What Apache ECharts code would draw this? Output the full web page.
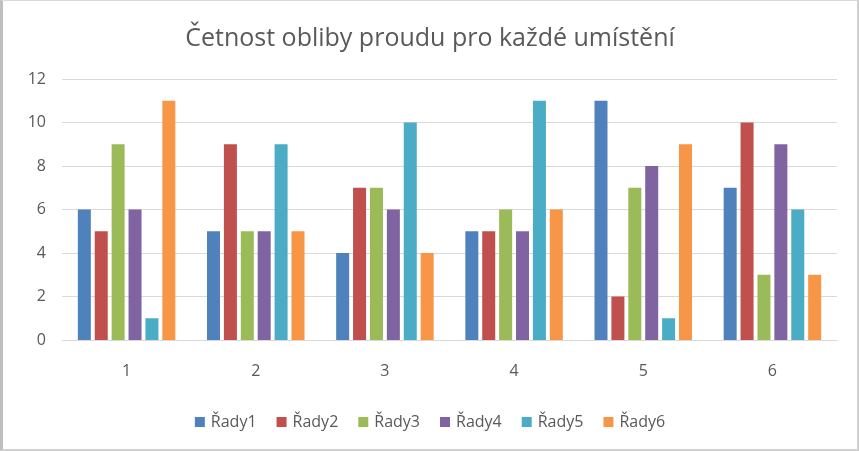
<!DOCTYPE html>
<html><head><meta charset="utf-8">
<script src="https://cdn.jsdelivr.net/npm/echarts@6/dist/echarts.min.js"></script>
<style>
html,body{margin:0;padding:0;background:#fff;}
#c{width:859px;height:451px;box-sizing:border-box;border:1px solid #d9d9d9;border-left:3px solid #bfbfbf;border-bottom:2px solid #d0d0d0;border-right:2px solid #d0d0d0;}
</style></head>
<body><div id="c"></div>
<script>
const categories = ['1','2','3','4','5','6'];
const seriesNames = ['Řady1','Řady2','Řady3','Řady4','Řady5','Řady6'];
const rady1 = [6,5,4,5,11,7];
const rady2 = [5,9,7,5,2,10];
const rady3 = [9,5,7,6,7,3];
const rady4 = [6,5,6,5,8,9];
const rady5 = [1,9,10,11,1,6];
const rady6 = [11,5,4,6,9,3];
const colors = ['#4F81BD','#C0504D','#9BBB59','#8064A2','#4BACC6','#F79646'];
const allData = [rady1,rady2,rady3,rady4,rady5,rady6];
const font = 'Open Sans';
const chart = echarts.init(document.getElementById('c'));
chart.setOption({
  animation:false,
  color:colors,
  title:{text:'Četnost obliby proudu pro každé umístění',left:'center',top:20,
    textStyle:{fontFamily:font,fontWeight:'normal',fontSize:25,color:'#595959'}},
  legend:{bottom:14,left:'center',itemWidth:10,itemHeight:10,itemGap:20,icon:'rect',
    textStyle:{fontFamily:font,fontSize:16,color:'#595959',padding:[0,0,0,1]}},
  grid:{left:59,right:20,top:78,bottom:109,containLabel:false},
  xAxis:{type:'category',data:categories,
    axisLine:{lineStyle:{color:'#d9d9d9'}},axisTick:{show:false},
    axisLabel:{fontFamily:font,fontSize:16,color:'#595959',margin:23}},
  yAxis:{type:'value',min:0,max:12,interval:2,
    axisLine:{show:false},axisTick:{show:false},
    splitLine:{lineStyle:{color:'#d9d9d9'}},
    axisLabel:{fontFamily:font,fontSize:16,color:'#595959',margin:16}},
  series: allData.map((d,i)=>({name:seriesNames[i],type:'bar',data:d,barWidth:13,barGap:'30%'}))
});
</script></body></html>
